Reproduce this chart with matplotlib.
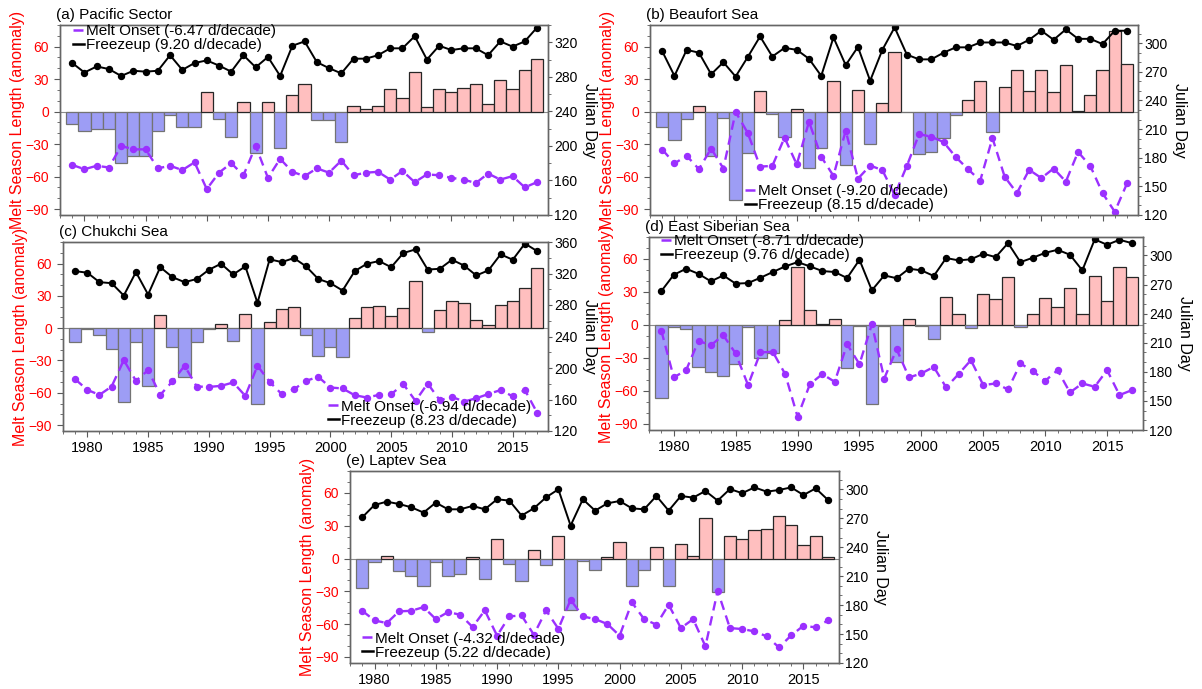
import numpy as np
import matplotlib
matplotlib.use('Agg')
import matplotlib.pyplot as plt
from matplotlib.lines import Line2D
from matplotlib.ticker import MultipleLocator

plt.rcParams['font.family'] = ['Liberation Sans', 'DejaVu Sans']

years = list(range(1979, 2018))

# (a) Pacific Sector
pac_anom = [-11.7, -17.8, -15.7, -16.3, -47.7, -40.9, -41, -17.8, -3, -14,
            -14, 18.5, -6.5, -23.4, 9.2, -37.8, 9.2, -33.8, 15.4, 25.2,
            -7.7, -7.7, -28, 5.2, 2.8, 5.2, 20.6, 12.3, 36.6, 4.3,
            20.6, 18.2, 21.5, 25.2, 7.4, 29.5, 20.6, 38.5, 49]
pac_melt = [178, 173, 177, 175, 200, 196, 196, 174, 177, 172,
            181, 150, 169, 180, 166, 200, 163, 185, 170, 165,
            174, 169, 183, 166, 169, 170, 161, 171, 158, 167,
            166, 163, 161, 157, 168, 161, 165, 152, 158]
pac_freeze = [296, 285, 292, 289, 281, 287, 286, 287, 305, 288,
              296, 299, 293, 286, 305, 291, 303, 281, 316, 321,
              297, 290, 284, 301, 301, 305, 313, 313, 327, 300,
              316, 311, 313, 313, 305, 321, 315, 321, 337]

# (b) Beaufort Sea
bea_anom = [-14, -26.3, -7, 5.2, -40.7, -6.1, -81.4, -38, 19, -2.4,
            -23.9, 2.1, -52.3, -33.7, 28, -49, 20, -30, 8.3, 55,
            -0.5, -39, -37, -24, -3, 10.4, 28, -18.4, 23, 38,
            19, 38, 18, 43.5, 0.6, 15.3, 38, 74, 44.4]
bea_melt = [188.6, 174, 182, 168, 189.6, 168.7, 228, 205.7, 170.7, 171.4,
            201, 173, 217.7, 181, 161, 208.4, 158, 171.8, 167, 141,
            171.4, 204.7, 202, 196.4, 180.7, 168, 156, 200.6, 160, 143,
            167.3, 158.7, 168.7, 155, 186, 171.4, 143, 123.4, 153]
bea_freeze = [291.5, 265.7, 293, 290, 267.4, 280, 265, 285.6, 307, 286,
              295, 293, 283.6, 265.7, 306, 277, 296, 260.6, 293, 316.5,
              288, 283, 283, 290, 295.6, 295.6, 300.7, 300.7, 300.7, 297,
              303.5, 313, 303.5, 314.4, 304.5, 304.5, 299, 313, 313]

# (c) Chukchi Sea
chu_anom = [-12.4, -1, -6.8, -19.3, -69, -13, -53.5, 11.8, -17.7, -45.7,
            -13, -1, 3.7, -11.8, 13.4, -70, 5.3, 17.7, 19.6, -6.2,
            -25.5, -17.7, -26.4, 9.3, 19.3, 20.2, 10.9, 18.7, 43.5, -4,
            17, 25.5, 23, 7.8, 2.5, 21.8, 25.5, 37.3, 55.4]
chu_melt = [185.8, 172.2, 165.9, 176.5, 210, 183.7, 197.3, 165.9, 182.9, 202.8,
            176.5, 176, 177.3, 181.6, 164.6, 202.8, 182.4, 166.7, 173, 183.7,
            188.8, 175.2, 174, 165.4, 162.5, 165.9, 166.7, 179.5, 158.2, 180.3,
            159, 163.3, 157.4, 161.6, 167, 172, 164, 172, 143.4]
chu_freeze = [323, 321, 309, 307.7, 292, 321.8, 293.3, 328, 315.4, 309,
              313, 324.7, 332.4, 318.8, 329, 282.7, 338, 334.5, 339.6, 329,
              313, 307.7, 298.4, 323, 332.4, 335.8, 328, 346, 350.6, 325,
              326, 337.5, 330, 317.5, 324, 344.3, 337.5, 358, 348.5]

# (d) East Siberian Sea
esi_anom = [-66.3, -2, -3.3, -38.4, -42.9, -46.8, -35.4, -2, -30.3, -25.8,
            4.2, 52.5, 13.5, 0.5, 5.7, -39.3, -1, -71.7, -1, -33.9,
            5.1, -1, -12.9, 25.5, 9.6, -3, 28.5, 24, 43.5, -1.8,
            9.6, 24.6, 16.5, 33.6, 9.6, 44.7, 21.6, 52.5, 43.5]
esi_melt = [222.2, 174.2, 181.7, 211.9, 207.4, 217.7, 198.9, 166.3, 200, 200.6,
            177.6, 133.7, 167.3, 177.6, 169.7, 208.4, 187.9, 229, 173.1, 203.3,
            174.2, 178.3, 185.1, 163.9, 177.6, 192, 166.3, 168, 161.8, 188.6,
            180.7, 170.7, 181.7, 158.7, 168, 164.6, 181.7, 156, 161.1]
esi_freeze = [263.3, 280, 286.3, 281, 273.3, 279.4, 270.9, 271.5, 277, 282.9,
              288.7, 293.1, 288.7, 283.9, 282.9, 276.7, 295.5, 264, 279.4, 276.5,
              286.3, 284.6, 278.8, 297.3, 294.9, 296, 301.7, 298.3, 312.7, 293.1,
              297.6, 302.7, 305.8, 300.7, 284.6, 316.5, 311, 316.1, 312.7]

# (e) Laptev Sea
lap_anom = [-26.8, -3.4, 2.7, -11.6, -16.1, -25.3, -3, -16.1, -14.6, 1.5,
            -18.6, 17.4, -4.6, -20.7, 7.6, -5.5, 21, -46.6, -2.4, -10.7,
            1.5, 15.2, -25.3, -10.7, 10.7, -25.3, 13.4, 2.7, 37.2, -30.5,
            20.4, 18.3, 26.5, 27.4, 39.3, 30.5, 12.8, 20.4, 1.2]
lap_melt = [174.1, 164.1, 161.4, 173.5, 174.1, 177.9, 165.5, 172.8, 170, 157.3,
            174.5, 148.3, 168.3, 169.3, 149.3, 174.5, 155.5, 185.5, 168.3, 165.5,
            160.4, 148.3, 182.8, 165.5, 159.7, 180.4, 156.2, 165.5, 137.3, 194.8,
            156.2, 155.2, 152.8, 147.6, 136.2, 148.6, 158.6, 156.9, 164.1]
lap_freeze = [271, 283.8, 287.2, 284.8, 281.4, 275.9, 286.2, 279.3, 279.3, 282.8,
              279.3, 289.7, 288.3, 272.8, 280.3, 291.7, 300, 262.4, 289.7, 277.9,
              285.5, 287.9, 280.3, 279.3, 293.1, 277.9, 293.1, 291.4, 298.3, 288.3,
              300.3, 296, 302, 297.6, 299.3, 302, 294.1, 301, 289]

PINK = '#ffbfbf'
BLUE = '#9d9df5'
PURPLE = '#9b30ff'
W, H = 1202, 689
DASH = (0, (4, 2.5))


def px_rect(left, top, right, bottom):
    return [left / W, 1 - bottom / H, (right - left) / W, (bottom - top) / H]


def draw_panel(fig, rect, title, anom, melt, freeze, rlim, rstep, rminor,
               melt_lab, freeze_lab, leg_xy, xlabels=True):
    ax = fig.add_axes(rect)
    colors = [PINK if v >= 0 else BLUE for v in anom]
    edges = ['0.15' if v >= 0 else '0.45' for v in anom]
    ax.bar(years, anom, width=1.0, color=colors, edgecolor=edges, linewidth=0.9)
    ax.axhline(0, color='0.55', lw=0.8, zorder=0.5)
    ax.set_xlim(1978, 2017.9)
    ax.set_ylim(-95.5, 80)
    ax.set_yticks(range(-90, 61, 30))
    ax.yaxis.set_minor_locator(MultipleLocator(10))
    ax.set_xticks(range(1980, 2016, 5))
    ax.xaxis.set_minor_locator(MultipleLocator(1))
    ax.tick_params(which='both', direction='out', color='0.35')
    ax.tick_params(which='major', length=4)
    ax.tick_params(which='minor', length=2)
    ax.tick_params(axis='y', labelcolor='red', labelsize=10, pad=4)
    ax.tick_params(axis='x', labelsize=10.5, labelbottom=xlabels)
    ax.set_ylabel('Melt Season Length (anomaly)', color='red', fontsize=11.5, labelpad=0)

    ax2 = ax.twinx()
    ax2.plot(years, freeze, color='black', lw=1.4, marker='o', ms=4.3)
    ax2.plot(years, melt, color=PURPLE, lw=1.7, ls=DASH, marker='o', ms=4.3)
    ax2.set_ylim(*rlim)
    ax2.set_yticks(range(120, int(rlim[1]) + 1, rstep))
    ax2.yaxis.set_minor_locator(MultipleLocator(rminor))
    ax2.tick_params(which='both', direction='out', color='0.35', labelsize=10, pad=1.5)
    ax2.tick_params(which='major', length=3)
    ax2.tick_params(which='minor', length=2)
    ax2.set_ylabel('Julian Day', rotation=270, va='bottom', fontsize=11.5, labelpad=3)

    for a in (ax, ax2):
        for s in a.spines.values():
            s.set_edgecolor('0.4')
            s.set_linewidth(1.0)

    ax.annotate(title, xy=(0, 1), xycoords='axes fraction', xytext=(-3, 7.5),
                textcoords='offset points', ha='left', va='center', fontsize=11)

    handles = [Line2D([], [], color=PURPLE, lw=1.8, ls=DASH),
               Line2D([], [], color='black', lw=1.8)]
    ax2.legend(handles, [melt_lab, freeze_lab], loc='upper left',
               bbox_to_anchor=(leg_xy[0] / W, 1 - leg_xy[1] / H),
               bbox_transform=fig.transFigure, frameon=False, fontsize=11,
               handlelength=0.7, handletextpad=0.15, borderpad=0,
               borderaxespad=0, labelspacing=0)


fig = plt.figure(figsize=(12.02, 6.89), dpi=100)

draw_panel(fig, px_rect(60, 25, 548, 215), '(a) Pacific Sector',
           pac_anom, pac_melt, pac_freeze, (120, 340), 40, 20,
           'Melt Onset (-6.47 d/decade)', 'Freezeup (9.20 d/decade)',
           (73, 24), xlabels=False)
draw_panel(fig, px_rect(650, 25, 1138, 215), '(b) Beaufort Sea',
           bea_anom, bea_melt, bea_freeze, (120, 319), 30, 10,
           'Melt Onset (-9.20 d/decade)', 'Freezeup (8.15 d/decade)',
           (745, 184.5), xlabels=False)
draw_panel(fig, px_rect(63, 242, 548, 431), '(c) Chukchi Sea',
           chu_anom, chu_melt, chu_freeze, (120, 360), 40, 20,
           'Melt Onset (-6.94 d/decade)', 'Freezeup (8.23 d/decade)',
           (328, 399.5))
draw_panel(fig, px_rect(649, 237, 1143, 430), '(d) East Siberian Sea',
           esi_anom, esi_melt, esi_freeze, (120, 319), 30, 10,
           'Melt Onset (-8.71 d/decade)', 'Freezeup (9.76 d/decade)',
           (661, 234.5))
draw_panel(fig, px_rect(350, 471, 839, 663), '(e) Laptev Sea',
           lap_anom, lap_melt, lap_freeze, (120, 319), 30, 10,
           'Melt Onset (-4.32 d/decade)', 'Freezeup (5.22 d/decade)',
           (362, 631.5))

fig.savefig('out.png', dpi=100)
